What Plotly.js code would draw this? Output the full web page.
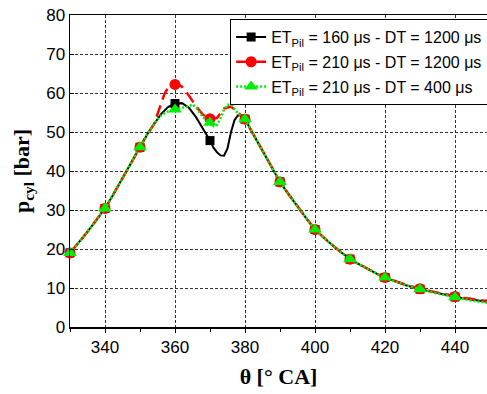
<!DOCTYPE html>
<html>
<head>
<meta charset="utf-8">
<script src="https://cdn.plot.ly/plotly-3.0.1.min.js"></script>
<style>html,body{margin:0;padding:0;background:#fff;}#chart{width:487px;height:394px;}</style>
</head>
<body>
<div id="chart"></div>
<script>
// Crank angle (deg CA) and cylinder pressure (bar)
const thetaBlack = [330,332,334,336,338,340,342,344,346,348,350,352,354,
  356,358,360,362,364,366,368,
  370,371,372,373,374,375,376,377,378,379,380,
  382,384,386,388,390,392,394,396,398,400,402,404,406,408,410,412,414,416,418,420,
  422,424,426,428,430,432,434,436,438,440,442,444,446,448,450];
const pBlack = [19.0,21.1,23.3,25.6,28.0,30.4,33.4,36.6,39.8,43.0,46.1,49.3,52.0,
  54.6,56.4,57.3,57.4,56.2,53.8,50.9,
  47.8,46.0,44.8,44.0,43.9,45.8,50.0,53.0,54.3,54.2,53.3,
  50.0,46.7,43.5,40.3,37.2,34.6,32.1,29.8,27.3,25.0,23.3,21.7,20.2,18.8,17.4,16.4,15.4,14.4,13.5,12.7,
  12.0,11.3,10.7,10.2,9.7,9.3,8.9,8.5,8.1,7.7,7.4,7.1,6.8,6.6,6.4];

const thetaRed = [330,332,334,336,338,340,342,344,346,348,350,352,354,
  355,356,357,358,359,360,361,362,364,366,368,370,372,374,376,378,380,
  382,384,386,388,390,392,394,396,398,400,402,404,406,408,410,412,414,416,418,420,
  422,424,426,428,430,432,434,436,438,440,442,444,446,448,450];
const pRed = [19.0,21.1,23.3,25.6,28.0,30.4,33.4,36.6,39.8,43.0,46.1,49.3,52.0,
  54.5,57.0,59.8,61.3,62.0,62.2,62.1,61.6,59.3,56.6,54.4,53.4,53.6,56.0,56.5,55.0,53.3,
  50.0,46.7,43.5,40.3,37.2,34.6,32.1,29.8,27.3,25.0,23.3,21.7,20.2,18.8,17.4,16.4,15.4,14.4,13.5,12.7,
  12.0,11.4,10.8,10.3,9.8,9.4,9.0,8.6,8.2,7.8,7.5,7.3,7.0,6.8,6.7];

const thetaGreen = [330,332,334,336,338,340,342,344,346,348,350,352,354,
  355,356,358,360,362,364,365,366,368,370,371,372,373,374,375,376,377,378,380,
  382,384,386,388,390,392,394,396,398,400,402,404,406,408,410,412,414,416,418,420,
  422,424,426,428,430,432,434,436,438,440,442,444,446,448,450];
const pGreen = [19.0,21.1,23.3,25.6,28.0,30.4,33.4,36.6,39.8,43.0,46.1,49.3,52.0,
  53.3,54.2,55.3,55.8,56.2,56.6,57.1,56.3,53.8,52.4,51.5,51.8,53.5,55.8,57.0,57.0,55.8,54.8,53.3,
  50.0,46.7,43.5,40.3,37.2,34.6,32.1,29.8,27.3,25.0,23.3,21.7,20.2,18.8,17.4,16.4,15.4,14.4,13.5,12.7,
  12.0,11.3,10.7,10.2,9.7,9.2,8.8,8.4,8.0,7.6,7.2,6.9,6.6,6.3,6.1];

const seriesNames = [
  'ET<sub>Pil</sub> = 160 \u03bcs - DT = 1200 \u03bcs',
  'ET<sub>Pil</sub> = 210 \u03bcs - DT = 1200 \u03bcs',
  'ET<sub>Pil</sub> = 210 \u03bcs - DT = 400 \u03bcs'
];
const xTickVals = [340,360,380,400,420,440];
const yTickVals = [0,10,20,30,40,50,60,70,80];

const SANS = 'Liberation Sans, Arial, sans-serif';
const SERIF = 'Liberation Serif, Times New Roman, serif';

const styles = [
  {color:'#000000', dash:'solid', width:2, symbol:'square', size:9},
  {color:'#ff0000', dash:'12px,6px', width:2.5, symbol:'circle', size:11},
  {color:'#00ee00', dash:'2px,2px', width:2.5, symbol:'triangle-up', size:12}
];
const xs = [thetaBlack, thetaRed, thetaGreen];
const ys = [pBlack, pRed, pGreen];

const traces = [];
for (let i = 0; i < 3; i++) {
  const s = styles[i];
  traces.push({x: xs[i], y: ys[i], type:'scatter', mode:'lines', showlegend:false,
    line:{color:s.color, dash:s.dash, width:s.width, shape:'linear'},
    hoverinfo:'skip'});
  const mx = [], my = [];
  xs[i].forEach((t, k) => { if (t % 10 === 0) { mx.push(t); my.push(ys[i][k]); } });
  traces.push({x: mx, y: my, type:'scatter', mode:'markers', showlegend:false,
    marker:{color:s.color, symbol:s.symbol, size:s.size, line:{width:0}}, cliponaxis:false});
}
for (let i = 0; i < 3; i++) {
  const s = styles[i];
  traces.push({x:[null], y:[null], type:'scatter', mode:'lines+markers', name: seriesNames[i],
    legendgroup:'g' + i,
    line:{color:s.color, dash:s.dash, width:s.width},
    marker:{color:s.color, symbol:s.symbol, size:s.size, line:{width:0}}});
}

const layout = {
  width: 487, height: 394,
  margin: {l:70, r:0, t:15, b:67, autoexpand:false},
  paper_bgcolor:'#ffffff', plot_bgcolor:'#ffffff',
  font: {family:SANS, size:17, color:'#000'},
  showlegend: true,
  legend: {x:0.384, y:0.987, xanchor:'left', yanchor:'top', bgcolor:'#ffffff',
    bordercolor:'#000000', borderwidth:1, font:{size:16, family:SANS},
    traceorder:'grouped', tracegroupgap:1, itemwidth:30},
  xaxis: {
    range:[330, 330 + 417/3.5], tickvals:xTickVals, ticks:'outside', ticklen:4,
    tickcolor:'#000', showline:true, linecolor:'#000', linewidth:1.5, mirror:true,
    showgrid:true, gridcolor:'#333', griddash:'3px,2px', gridwidth:1, zeroline:false,
    minor:{dtick:10, tick0:330, ticks:'outside', ticklen:3, tickcolor:'#000', showgrid:false},
    title:{text:'\u03b8 [\u00b0 CA]', font:{family:SERIF, size:22, weight:'bold'}, standoff:12}
  },
  yaxis: {
    range:[0,80], tickvals:yTickVals, ticks:'inside', ticklen:4, tickcolor:'#000',
    showline:true, linecolor:'#000', linewidth:1.5, mirror:true,
    showgrid:true, gridcolor:'#333', griddash:'3px,2px', gridwidth:1, zeroline:false,
    title:{text:'p<sub>cyl</sub> [bar]', font:{family:SERIF, size:22, weight:'bold'}, standoff:10}
  }
};

Plotly.newPlot('chart', traces, layout, {displayModeBar:false, staticPlot:true});
</script>
</body>
</html>
